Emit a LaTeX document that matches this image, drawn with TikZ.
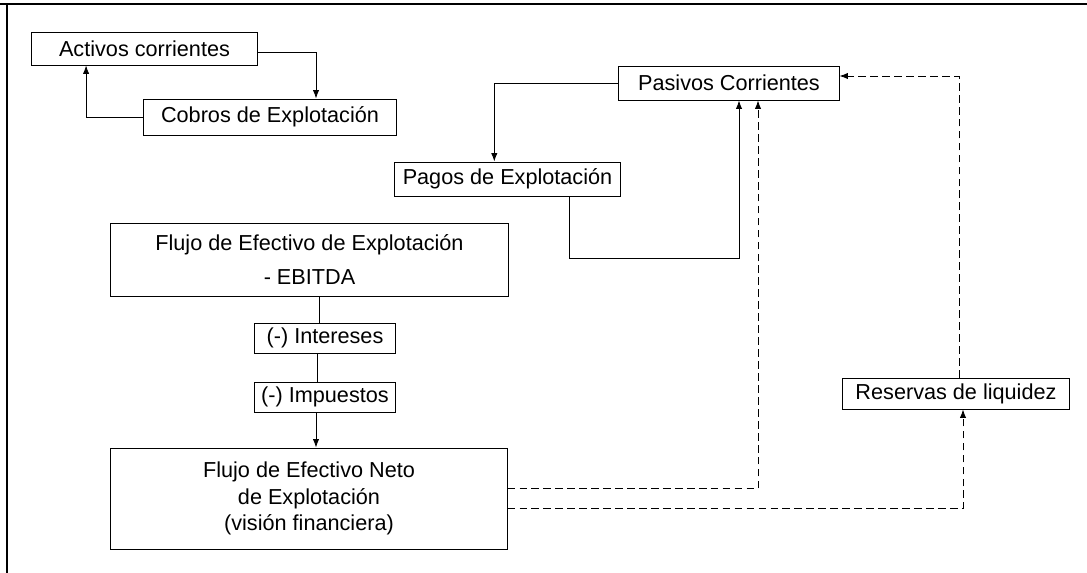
\documentclass[tikz,border=0pt]{standalone}
\usepackage{fontspec}
\setmainfont{Liberation Sans}
\usetikzlibrary{arrows.meta}
\tikzset{>={Latex[length=6pt,width=4.5pt]}}
\tikzset{
  caja/.style={draw, line width=0.7pt, align=center, inner sep=2pt,
    font=\fontsize{15.4}{19}\selectfont},
  flecha/.style={->, line width=0.6pt},
  linea/.style={line width=0.6pt},
  punteada/.style={->, line width=0.6pt, dash pattern=on 5.5pt off 3pt}
}

\begin{document}
\begin{tikzpicture}[x=0.025cm, y=-0.025cm]
  \useasboundingbox (0,0) rectangle (1087,573);
  % marco
  \draw[line width=0.8pt] (0,4) -- (1087,4);
  \draw[line width=0.8pt] (7,4) -- (7,573);

  % cajas
  \node[caja, minimum width=5.625cm, minimum height=0.825cm] (activos) at (144.5,48.5) {Activos corrientes};
  \node[caja, minimum width=6.3cm, minimum height=0.9cm] (cobros) at (270,117) {Cobros de Explotación};
  \node[caja, minimum width=5.5cm, minimum height=0.85cm] (pasivos) at (729,83) {Pasivos Corrientes};
  \node[caja, minimum width=5.625cm, minimum height=0.85cm] (pagos) at (507.5,179) {Pagos de Explotación};
  \node[caja, minimum width=9.925cm, minimum height=1.825cm] (ebitda) at (309.5,259.5) {Flujo de Efectivo de Explotación\\[5pt] - EBITDA};
  \node[caja, minimum width=3.5cm, minimum height=0.75cm] (intereses) at (325,338) {(-) Intereses};
  \node[caja, minimum width=3.5cm, minimum height=0.75cm] (impuestos) at (325,397) {(-) Impuestos};
  \node[caja, minimum width=9.9cm, minimum height=2.525cm] (neto) at (309,498.5) {Flujo de Efectivo Neto\\ de Explotación\\ (visión financiera)};
  \node[caja, minimum width=5.65cm, minimum height=0.775cm] (reservas) at (956,393.5) {Reservas de liquidez};

  % ciclo de cobros
  \draw[flecha] ([yshift=-0.1cm]activos.east) -| ([xshift=1.15cm]cobros.north);
  \draw[flecha] (cobros.west) -| ([xshift=-1.46cm]activos.south);

  % ciclo de pagos
  \draw[flecha] (pasivos.west) -| ([xshift=-0.33cm]pagos.north);
  \draw[flecha] ([xshift=1.55cm]pagos.south) -- ++(0,62) -| ([xshift=0.25cm]pasivos.south);

  % flujo hacia abajo
  \draw[linea] ([xshift=-0.13cm]intereses.north) -- ([xshift=-0.13cm]intereses.north |- ebitda.south);
  \draw[linea] ([xshift=-0.18cm]impuestos.north) -- ([xshift=-0.18cm]impuestos.north |- intereses.south);
  \draw[flecha] ([xshift=-0.225cm]impuestos.south) -- ([xshift=-0.225cm]impuestos.south |- neto.north);

  % lineas punteadas
  \draw[punteada] ([yshift=0.24cm]neto.east) -| ([xshift=0.725cm]pasivos.south);
  \draw[punteada] ([yshift=-0.26cm]neto.east) -| ([xshift=0.175cm]reservas.south);
  \draw[punteada] ([xshift=0.075cm]reservas.north) |- ([yshift=0.175cm]pasivos.east);
\end{tikzpicture}
\end{document}
